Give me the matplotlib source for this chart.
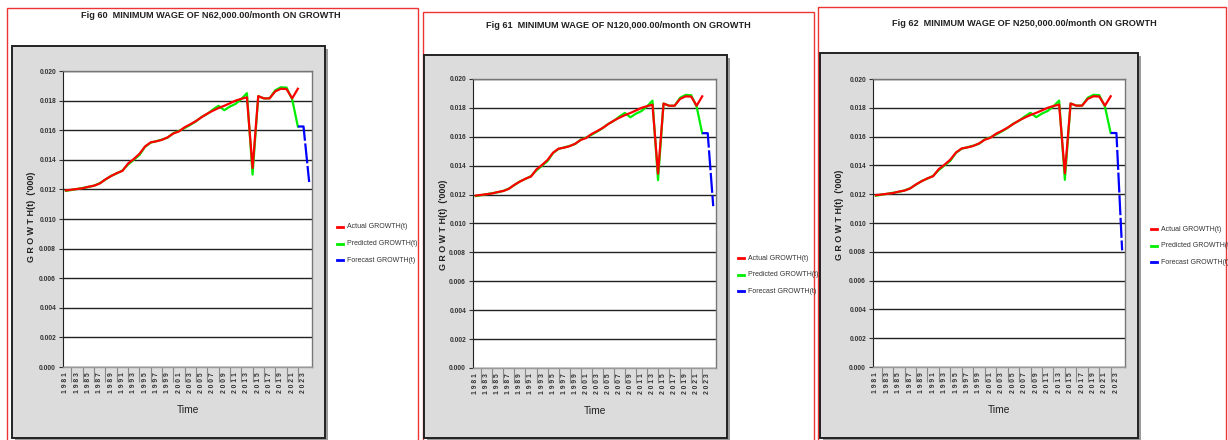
import matplotlib
matplotlib.use("Agg")
import matplotlib.pyplot as plt
from matplotlib.patches import Rectangle
from matplotlib.lines import Line2D

W, H = 1228, 440

# ---- data ----
years = list(range(1981, 2025))

actual = [0.01193, 0.01198, 0.01203, 0.01208, 0.01218, 0.01225, 0.01240, 0.01268,
          0.01290, 0.01310, 0.01325, 0.01375, 0.01405, 0.01440, 0.01490, 0.01518,
          0.01525, 0.01535, 0.01552, 0.01578, 0.01592, 0.01620, 0.01640, 0.01662,
          0.01688, 0.01712, 0.01732, 0.01750, 0.01765, 0.01782, 0.01800, 0.01812,
          0.01822, 0.01345, 0.01830, 0.01815, 0.01815, 0.01862, 0.01880, 0.01878,
          0.01815, 0.01880]

predicted = [0.01190, 0.01196, 0.01203, 0.01210, 0.01216, 0.01226, 0.01242, 0.01266,
             0.01292, 0.01308, 0.01328, 0.01368, 0.01400, 0.01432, 0.01488, 0.01516,
             0.01526, 0.01537, 0.01550, 0.01580, 0.01595, 0.01615, 0.01636, 0.01660,
             0.01690, 0.01710, 0.01740, 0.01765, 0.01735, 0.01760, 0.01778, 0.01810,
             0.01850, 0.01300, 0.01830, 0.01815, 0.01815, 0.01870, 0.01890, 0.01888,
             0.01808, 0.01625]

forecast_62k = [0.01625, 0.01625, 0.01250]
forecast_120k = [0.01625, 0.01625, 0.01120]
forecast_250k = [0.01625, 0.01625, 0.00810]

titles = ["Fig 60  MINIMUM WAGE OF N62,000.00/month ON GROWTH",
          "Fig 61  MINIMUM WAGE OF N120,000.00/month ON GROWTH",
          "Fig 62  MINIMUM WAGE OF N250,000.00/month ON GROWTH"]
forecasts = [forecast_62k, forecast_120k, forecast_250k]

y_ticks = [0.000, 0.002, 0.004, 0.006, 0.008, 0.010, 0.012, 0.014, 0.016, 0.018, 0.020]
x_labels = [str(y) for y in years[::2]]
legend_labels = ["Actual GROWTH(t)", "Predicted GROWTH(t)", "Forecast GROWTH(t)"]

# pixel layout of each panel (x0, y0, x1, y1 from top-left)
layout = [
    dict(frame=(7, 8, 418, 446), chart=(12, 46, 325, 438), plot=(63, 71, 312, 367),
         title=(211, 16), ylab=(32, 217), leg=(337, 227)),
    dict(frame=(423, 12, 814, 446), chart=(424, 55, 727, 438), plot=(473, 79, 716, 368),
         title=(618, 25), ylab=(443, 225), leg=(738, 258)),
    dict(frame=(818, 7, 1226, 446), chart=(820, 53, 1138, 438), plot=(873, 79, 1125, 367),
         title=(1024, 24), ylab=(840, 215), leg=(1151, 229)),
]

FONT = ['Liberation Sans', 'DejaVu Sans']
colors = ['#ff0000', '#00ee00', '#0000ff']


def fx(x):
    return x / W


def fy(y):
    return 1 - y / H


fig = plt.figure(figsize=(W / 100, H / 100), dpi=100)
fig.patch.set_facecolor('white')

for i, lay in enumerate(layout):
    # red outer frame
    x0, y0, x1, y1 = lay['frame']
    fig.add_artist(Rectangle((fx(x0), fy(y1)), fx(x1 - x0), (y1 - y0) / H,
                             transform=fig.transFigure, fill=False,
                             edgecolor='#ee3333', lw=1.0, zorder=-3))
    # grey chart area with shadow
    x0, y0, x1, y1 = lay['chart']
    fig.add_artist(Rectangle((fx(x0 + 3), fy(y1 + 3)), fx(x1 - x0), (y1 - y0) / H,
                             transform=fig.transFigure, facecolor='#9a9a9a',
                             edgecolor='none', zorder=-3))
    fig.add_artist(Rectangle((fx(x0), fy(y1)), fx(x1 - x0), (y1 - y0) / H,
                             transform=fig.transFigure, facecolor='#dcdcdc',
                             edgecolor='#222222', lw=1.4, zorder=-2))

    fig.text(fx(lay['title'][0]), fy(lay['title'][1]), titles[i], ha='center', va='center',
             fontsize=6.6, fontweight='bold', family=FONT, color='#222222')

    x0, y0, x1, y1 = lay['plot']
    ax = fig.add_axes([fx(x0), fy(y1), fx(x1 - x0), (y1 - y0) / H])
    ax.set_facecolor('white')
    idx = list(range(len(years)))
    n = len(actual)
    ax.plot(idx[:n], predicted, color=colors[1], lw=1.6, zorder=3)
    ax.plot(idx[:n], actual, color=colors[0], lw=1.6, zorder=4)
    ax.plot(idx[n - 1:], forecasts[i], color=colors[2], lw=1.6, zorder=5,
            dashes=(9, 1.2))

    ax.set_xlim(-0.5, len(years) - 0.5)
    ax.set_ylim(0, 0.020)
    ax.set_yticks(y_ticks)
    ax.set_yticklabels(['%.3f' % v for v in y_ticks], fontsize=4.8, fontweight='bold',
                       family=FONT, color='#333333')
    ax.grid(axis='y', color='#222222', lw=1.0)
    ax.set_axisbelow(True)

    ax.set_xticks(idx[::2])
    ax.set_xticklabels([' '.join(s) for s in x_labels], rotation=90, fontsize=4.9,
                       fontweight='bold', family=FONT, color='#333333')
    ax.tick_params(axis='x', length=0, pad=4)
    ax.set_xticks([k + 1 for k in idx[::2]][:-1], minor=True)
    ax.tick_params(axis='x', which='minor', length=11, width=0.8, color='#888888')
    ax.tick_params(axis='y', length=3, width=0.8, color='#333333', pad=2)

    for side in ['top', 'right']:
        ax.spines[side].set_color('#777777')
        ax.spines[side].set_linewidth(1.0)
    ax.spines['left'].set_color('#222222')
    ax.spines['bottom'].set_color('#999999')
    ax.spines['bottom'].set_linewidth(1.0)

    ax.set_xlabel('Time', fontsize=7.4, family=FONT, color='#222222', labelpad=8)
    fig.text(fx(lay['ylab'][0]), fy(lay['ylab'][1]), "G R O W T H(t)  ('000)", rotation=90,
             ha='center', va='center', fontsize=6.4, fontweight='bold', family=FONT,
             color='#222222')

    # legend drawn manually in figure pixels
    lx, ly = lay['leg']
    for j, lab in enumerate(legend_labels):
        yy = ly + j * 16.7
        fig.add_artist(Line2D([fx(lx), fx(lx + 6)], [fy(yy), fy(yy)], color=colors[j],
                              lw=2.0, transform=fig.transFigure))
        fig.text(fx(lx + 10), fy(yy), lab, ha='left', va='center', fontsize=5.0,
                 family=FONT, color='#333333')

fig.savefig('out.png', dpi=100)
